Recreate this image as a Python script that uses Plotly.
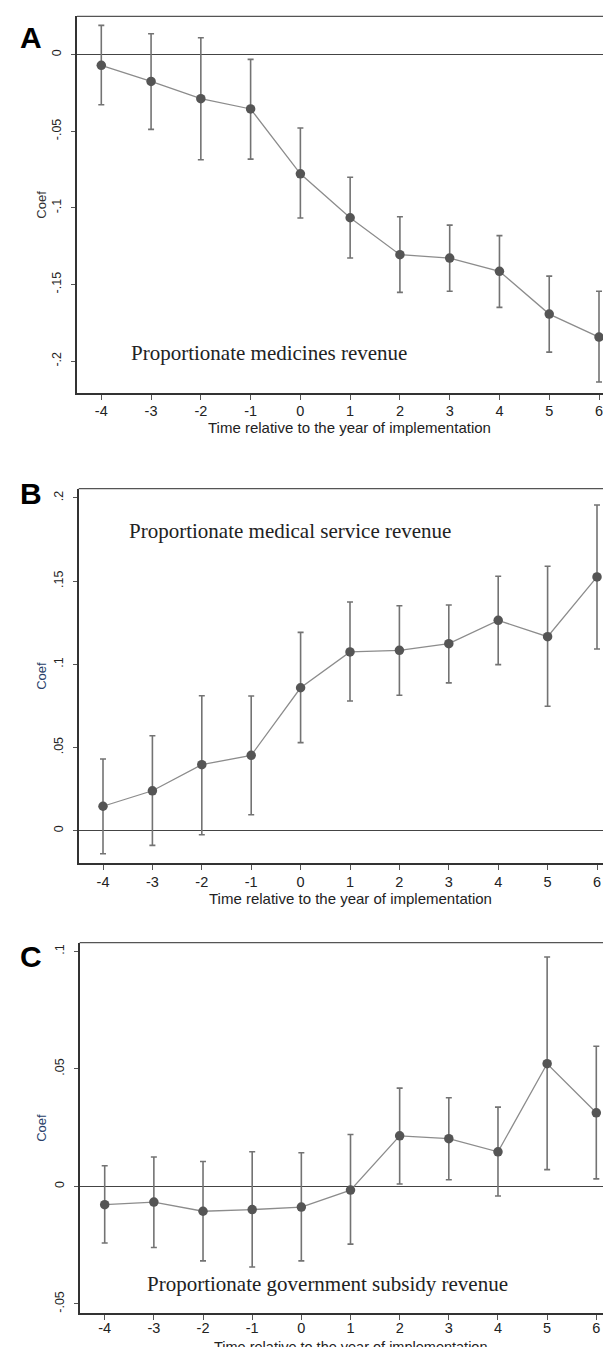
import plotly.graph_objects as go

W, H = 611, 1347

periods = [-4, -3, -2, -1, 0, 1, 2, 3, 4, 5, 6]

# Panel A: proportionate medicines revenue
coef_a = [-0.0069, -0.0174, -0.0287, -0.0354, -0.0777, -0.1064, -0.1305, -0.1327, -0.1414, -0.1693, -0.1843]
upper_a = [0.0192, 0.0137, 0.0111, -0.0030, -0.0478, -0.0800, -0.1057, -0.1112, -0.1181, -0.1445, -0.1544]
lower_a = [-0.0326, -0.0487, -0.0685, -0.0681, -0.1066, -0.1327, -0.1551, -0.1544, -0.1649, -0.1941, -0.2136]

# Panel B: proportionate medical service revenue
coef_b = [0.0147, 0.0240, 0.0397, 0.0453, 0.0859, 0.1074, 0.1084, 0.1124, 0.1264, 0.1166, 0.1525]
upper_b = [0.0431, 0.0571, 0.0811, 0.0809, 0.1192, 0.1374, 0.1352, 0.1356, 0.1529, 0.1589, 0.1957]
lower_b = [-0.0138, -0.0088, -0.0024, 0.0096, 0.0529, 0.0779, 0.0814, 0.0888, 0.0998, 0.0748, 0.1092]

# Panel C: proportionate government subsidy revenue
coef_c = [-0.0078, -0.0067, -0.0106, -0.0099, -0.0088, -0.0016, 0.0215, 0.0203, 0.0147, 0.0522, 0.0313]
upper_c = [0.0088, 0.0125, 0.0106, 0.0147, 0.0143, 0.0221, 0.0418, 0.0377, 0.0337, 0.0976, 0.0596]
lower_c = [-0.0241, -0.0260, -0.0317, -0.0343, -0.0317, -0.0246, 0.0010, 0.0028, -0.0041, 0.0071, 0.0032]

yticks_a = [0, -0.05, -0.1, -0.15, -0.2]
ytext_a = ["0", "-.05", "-.1", "-.15", "-.2"]
yticks_b = [0, 0.05, 0.1, 0.15, 0.2]
ytext_b = ["0", ".05", ".1", ".15", ".2"]
yticks_c = [-0.05, 0, 0.05, 0.1]
ytext_c = ["-.05", "0", ".05", ".1"]

labels = ["Proportionate medicines revenue",
          "Proportionate medical service revenue",
          "Proportionate government subsidy revenue"]
panel_letters = ["A", "B", "C"]
xtitle = "Time relative to the year of implementation"
ytitle = "Coef"


def px(x):
    return x / W


def py(y):
    return 1 - y / H


# pixel geometry per panel: left, top, bottom, x of -4 tick, px per unit
panels = [
    dict(coef=coef_a, up=upper_a, lo=lower_a, yr=[-0.2208, 0.0251], tv=yticks_a, tt=ytext_a,
         left=69.0, top=8.3, bottom=385.0, x0=93.3, ppu=49.77, lw=1.5, so=-1, xts=15,
         lab=(121.0, 345.0), letter=(9.5, 29.0), xt_y=419.0),
    dict(coef=coef_b, up=upper_b, lo=lower_b, yr=[-0.0194, 0.2055], tv=yticks_b, tt=ytext_b,
         left=70.7, top=480.7, bottom=855.0, x0=95.0, ppu=49.4, lw=2.2, so=-1, xts=15,
         lab=(118.5, 523.3), letter=(9.5, 485.0), xt_y=890.0),
    dict(coef=coef_c, up=upper_c, lo=lower_c, yr=[-0.0539, 0.1037], tv=yticks_c, tt=ytext_c,
         left=71.7, top=934.7, bottom=1305.0, x0=96.7, ppu=49.16, lw=1.5, so=-4, xts=14.5,
         lab=(137.0, 1275.5), letter=(9.5, 949.0), xt_y=1338.5),
]

fig = go.Figure()
annotations = []
shapes = []

tick_font = dict(family="Liberation Sans, Arial, sans-serif", size=14.5, color="#222")

for i, p in enumerate(panels):
    n = "" if i == 0 else str(i + 1)
    xa, ya = "x" + n, "y" + n
    err_plus = [u - c for u, c in zip(p["up"], p["coef"])]
    err_minus = [c - l for c, l in zip(p["coef"], p["lo"])]
    fig.add_trace(go.Scatter(
        x=periods, y=p["coef"], xaxis=xa, yaxis=ya, mode="lines+markers",
        line=dict(color="#8c8c8c", width=1.3),
        marker=dict(size=9.5, color="#555555"),
        error_y=dict(type="data", array=err_plus, arrayminus=err_minus,
                     color="#737373", thickness=1.6, width=3),
        showlegend=False, hoverinfo="skip",
    ))
    xl = p["x0"]
    xr0 = -4 - (xl - p["left"]) / p["ppu"]
    xr1 = -4 + (W - xl) / p["ppu"]
    fig.layout["xaxis" + n] = dict(
        domain=[px(p["left"]), 1.0], anchor=ya, range=[xr0, xr1],
        tickvals=periods, ticktext=[str(v) for v in periods],
        showline=True, linecolor="#333", linewidth=p["lw"], mirror=False,
        ticks="outside", ticklen=5, tickcolor="#555", tickwidth=1,
        showgrid=False, zeroline=False, tickfont=tick_font, ticklabelstandoff=p["so"],
    )
    fig.layout["yaxis" + n] = dict(
        domain=[py(p["bottom"]), py(p["top"])], anchor=xa, range=p["yr"],
        tickvals=p["tv"], ticktext=p["tt"], tickangle=-90,
        showline=True, linecolor="#333", linewidth=p["lw"],
        ticks="outside", ticklen=4, tickcolor="#555", tickwidth=1,
        showgrid=False, zeroline=True, zerolinecolor="#444", zerolinewidth=1.3,
        tickfont=dict(family="Liberation Sans, Arial, sans-serif", size=12.5, color="#222"),
        ticklabelstandoff=5,
    )
    # top border of plot region
    shapes.append(dict(type="line", xref=xa + " domain", yref=ya + " domain",
                       x0=0, x1=1, y0=1, y1=1, line=dict(color="#555", width=1.3)))
    # panel label text
    annotations.append(dict(text=labels[i], xref="paper", yref="paper",
                            x=px(p["lab"][0]), y=py(p["lab"][1]), xanchor="left", yanchor="middle",
                            showarrow=False,
                            font=dict(family="Liberation Serif, Times New Roman, serif", size=21, color="#222")))
    # panel letter
    annotations.append(dict(text="<b>" + panel_letters[i] + "</b>", xref="paper", yref="paper",
                            x=px(p["letter"][0]), y=py(p["letter"][1]), xanchor="left", yanchor="middle",
                            showarrow=False,
                            font=dict(family="Liberation Sans, Arial, sans-serif", size=30, color="#000")))
    # x title
    xc = (p["left"] + W + 3) / 2
    annotations.append(dict(text=xtitle, xref="paper", yref="paper",
                            x=px(xc), y=py(p["xt_y"]), xanchor="center", yanchor="middle",
                            showarrow=False, borderpad=0,
                            font=dict(family="Liberation Sans, Arial, sans-serif", size=p["xts"], color="#222")))
    # y title
    annotations.append(dict(text=ytitle, xref="paper", yref="paper", textangle=-90,
                            x=px(34.0), y=py((p["top"] + p["bottom"]) / 2), xanchor="center", yanchor="middle",
                            showarrow=False,
                            font=dict(family="Liberation Sans, Arial, sans-serif", size=13,
                                      color="#333" if i == 0 else "#2a3f6a")))

fig.update_layout(
    width=W, height=H, margin=dict(l=0, r=0, t=0, b=0),
    paper_bgcolor="white", plot_bgcolor="white",
    annotations=annotations, shapes=shapes,
)

fig.write_html("out.html")
